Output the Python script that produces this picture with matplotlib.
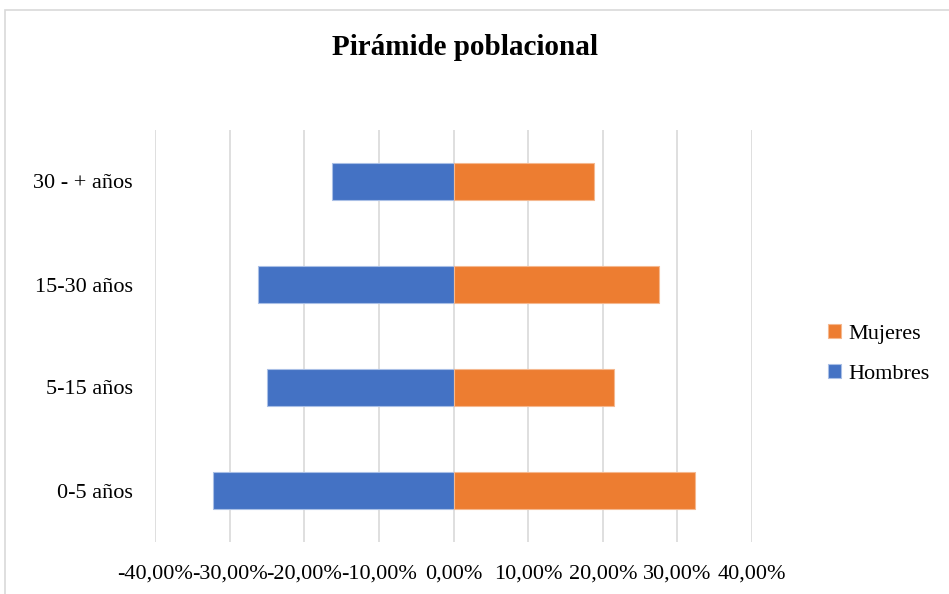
import matplotlib
matplotlib.use("Agg")
import matplotlib.pyplot as plt
from matplotlib.patches import Rectangle
from matplotlib.ticker import FuncFormatter

# data (percentages)
grupos = ["0-5 años", "5-15 años", "15-30 años", "30 - + años"]
hombres = [-32.2, -25.0, -26.2, -16.3]
mujeres = [32.4, 21.5, 27.6, 18.8]

AZUL = "#4472C4"
NARANJA = "#ED7D31"
GRID = "#D9D9D9"

plt.rcParams["font.family"] = ["Liberation Serif", "DejaVu Serif"]

fig = plt.figure(figsize=(9.49, 5.94), dpi=100)
fig.patches.append(Rectangle((5 / 949, -0.01), 1.0, 0.993, transform=fig.transFigure,
                             fill=False, edgecolor="#D9D9D9", linewidth=1.2))

ax = fig.add_axes([155 / 949, 52 / 594, 597 / 949, 412 / 594])

y = range(len(grupos))
ax.barh(y, hombres, height=0.35, color=AZUL, edgecolor="#A9BFE6", linewidth=0.8,
        label="Hombres", zorder=3)
ax.barh(y, mujeres, height=0.35, color=NARANJA, edgecolor="#F5B88F", linewidth=0.8,
        label="Mujeres", zorder=3)

ax.set_xlim(-40, 40)
ax.set_ylim(-0.5, len(grupos) - 0.5)
ax.set_xticks(range(-40, 41, 10))
ax.xaxis.set_major_formatter(FuncFormatter(lambda v, p: f"{v:.2f}%".replace(".", ",")))
ax.set_yticks(list(y))
ax.set_yticklabels(grupos)
ax.tick_params(axis="both", length=0, labelsize=16, colors="#000000")
ax.tick_params(axis="x", pad=16)
ax.tick_params(axis="y", pad=16)
ax.grid(axis="x", color=GRID, linewidth=1.2, zorder=0)
for s in ax.spines.values():
    s.set_visible(False)

fig.text(0.49, 0.92, "Pirámide poblacional", ha="center", va="center",
         fontsize=21, fontweight="bold")

handles, labels = ax.get_legend_handles_labels()
fig.legend(handles[::-1], labels[::-1], loc="center left",
           bbox_to_anchor=(808 / 949, 1 - 354 / 594), frameon=False, fontsize=16,
           handlelength=0.6, handleheight=0.6, handletextpad=0.3, labelspacing=0.9)

fig.savefig("out.png", dpi=100, facecolor="white")
